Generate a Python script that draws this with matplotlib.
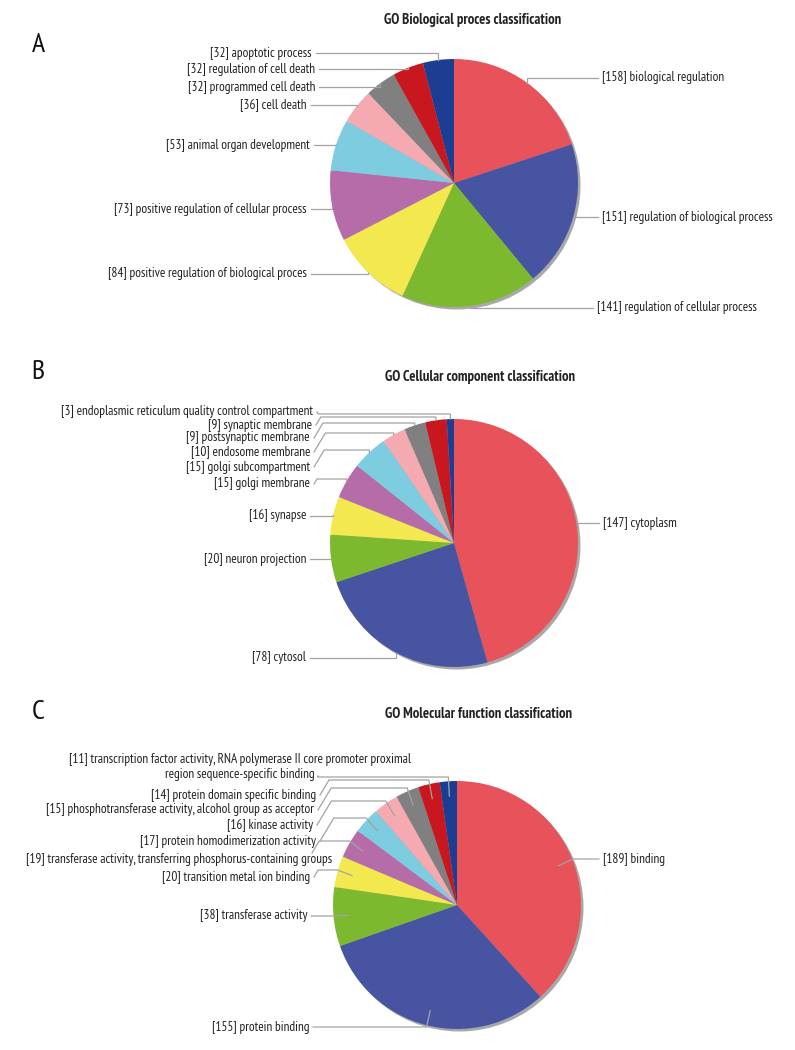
import matplotlib.pyplot as plt
from matplotlib.patches import Circle
import numpy as np

plt.rcParams['font.family'] = ['PT Sans Narrow', 'Roboto Condensed', 'DejaVu Sans']

colors = ['#E8525A', '#4754A2', '#7CB92F', '#F3E84E', '#B56CA9',
          '#7ECCE0', '#F5AAB1', '#808080', '#C8171F', '#1B3E93']

# GO Biological process
bp_names = ['biological regulation', 'regulation of biological process',
            'regulation of cellular process', 'positive regulation of biological proces',
            'positive regulation of cellular process', 'animal organ development',
            'cell death', 'programmed cell death', 'regulation of cell death',
            'apoptotic process']
bp_counts = [158, 151, 141, 84, 73, 53, 36, 32, 32, 32]

# GO Cellular component
cc_names = ['cytoplasm', 'cytosol', 'neuron projection', 'synapse', 'golgi membrane',
            'golgi subcompartment', 'endosome membrane', 'postsynaptic membrane',
            'synaptic membrane', 'endoplasmic reticulum quality control compartment']
cc_counts = [147, 78, 20, 16, 15, 15, 10, 9, 9, 3]

# GO Molecular function
mf_names = ['binding', 'protein binding', 'transferase activity',
            'transition metal ion binding',
            'transferase activity, transferring phosphorus-containing groups',
            'protein homodimerization activity', 'kinase activity',
            'phosphotransferase activity, alcohol group as acceptor',
            'protein domain specific binding',
            'transcription factor activity, RNA polymerase II core promoter proximal\n'
            'region sequence-specific binding']
mf_counts = [189, 155, 38, 20, 19, 17, 16, 15, 14, 11]

R = 124
LINE = '#a3a3a3'


def draw_pie(ax, counts, names, center, text_pos, shelves, inner=1.0, starts=None):
    cx, cy = center
    ax.add_patch(Circle((cx + 2.5, cy + 2.5), R, color='#a8a8a8', zorder=1, lw=0))
    wedges, _ = ax.pie(counts, colors=colors, startangle=-90, counterclock=True,
                       center=center, radius=R, frame=True,
                       wedgeprops=dict(linewidth=0, zorder=2))
    for i, w in enumerate(wedges):
        th = np.deg2rad((w.theta1 + w.theta2) / 2)
        ex = cx + R * np.cos(th)
        endx, endy = cx + R * inner * np.cos(th), cy + R * inner * np.sin(th)
        tx, ty, ha = text_pos[i]
        side = 1 if ha == 'right' else -1
        if starts is not None and starts[i] is not None:
            sx, sy = starts[i]
        else:
            sx, sy = tx + 4 * side, ty
        sh = shelves[i]
        kx = sx + side * 0.6 * abs(sy - sh)
        ax.plot([sx, kx, ex, endx], [sy, sh, sh, endy], color=LINE, lw=0.9,
                zorder=3, solid_joinstyle='miter')
        label = f'[{counts[i]}] {names[i]}'
        ax.text(tx, ty, label, ha=ha, va='center', fontsize=9.5, color='#222222',
                multialignment='center', linespacing=1.15, zorder=4)


fig = plt.figure(figsize=(7.95, 10.5), dpi=100)
ax = fig.add_axes([0, 0, 1, 1])

# A
bp_pos = [(602, 78, 'left'), (602, 217, 'left'), (597, 308, 'left'),
          (307, 274, 'right'), (307, 209, 'right'), (310, 145, 'right'),
          (307, 105, 'right'), (315, 87, 'right'), (315, 69, 'right'),
          (312, 53, 'right')]
bp_shelf = [78, 217, 308, 274, 209, 145, 105, 87, 69, 53]
draw_pie(ax, bp_counts, bp_names, (454, 183), bp_pos, bp_shelf)

# B
cc_pos = [(603, 523, 'left'), (306, 658, 'right'), (306, 559, 'right'),
          (306, 516, 'right'), (310, 484, 'right'), (310, 467, 'right'),
          (310, 452, 'right'), (310, 438, 'right'), (312, 425, 'right'),
          (313, 412, 'right')]
cc_shelf = [523, 658, 559, 516, 479, 450, 433, 423, 417, 414]
draw_pie(ax, cc_counts, cc_names, (454, 543), cc_pos, cc_shelf)

# C
mf_pos = [(603, 859, 'left'), (309, 1027, 'right'), (307, 916, 'right'),
          (310, 877, 'right'), (332, 859, 'right'), (316, 841, 'right'),
          (313, 825, 'right'), (314, 810, 'right'), (316, 795, 'right'),
          (240, 767, 'center')]
mf_shelf = [859, 1027, 916, 870, 841, 818, 801, 788, 780, 777]
mf_starts = [None, None, None, None, (312, 853), None, None, None, None, (318, 776)]
draw_pie(ax, mf_counts, mf_names, (457, 905), mf_pos, mf_shelf, inner=0.88,
         starts=mf_starts)

# titles and panel letters
titles = ['GO Biological proces classification', 'GO Cellular component classification',
          'GO Molecular function classification']
for (x, y), t in zip([(473, 20), (480, 377), (479, 714)], titles):
    ax.text(x, y, t, ha='center', va='center', fontsize=10.5, fontweight='bold',
            color='#222222')
for (x, y), t in zip([(38, 45), (38, 372), (38, 712)], ['A', 'B', 'C']):
    ax.text(x, y, t, ha='center', va='center', fontsize=20, color='#111111')

ax.set_xlim(0, 795)
ax.set_ylim(1050, 0)
ax.set_aspect('equal')
ax.axis('off')

fig.savefig('out.png', dpi=100)
